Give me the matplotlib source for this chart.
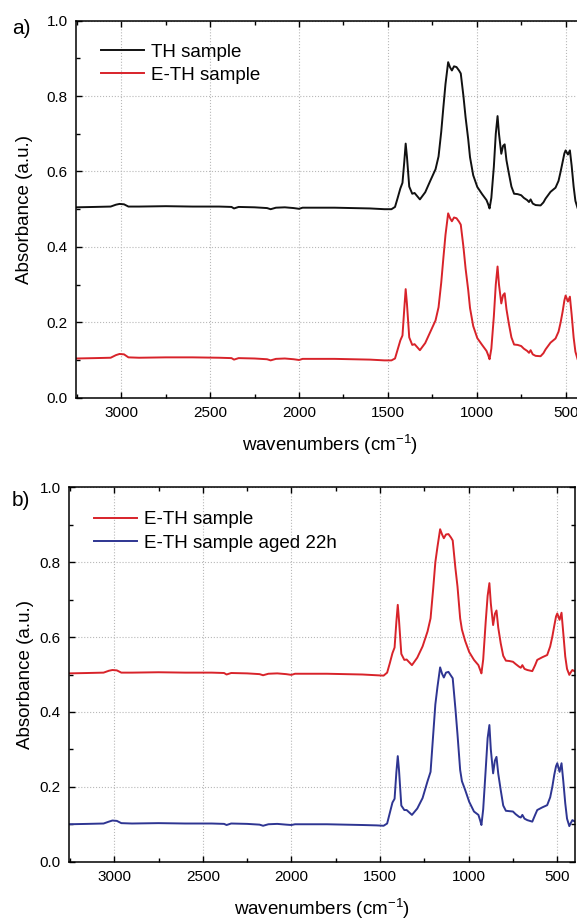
import matplotlib
matplotlib.use("Agg")
import matplotlib.pyplot as plt
from matplotlib.ticker import MultipleLocator

plt.rcParams['font.family'] = ['Liberation Sans', 'DejaVu Sans']

# Wavenumber grid (cm-1) shared by all spectra
wavenumbers = [3255, 3150, 3060, 3030, 3010, 2985, 2960, 2900, 2750, 2600,
               2450, 2380, 2366, 2340, 2250, 2180, 2160, 2130, 2080, 2030,
               2000, 1980, 1900, 1800, 1700, 1600, 1520, 1480, 1460, 1445,
               1430, 1418, 1408, 1400, 1393, 1380, 1363, 1350, 1320, 1290,
               1260, 1232, 1215, 1200, 1188, 1176, 1161, 1150, 1140, 1128,
               1114, 1100, 1090, 1075, 1063, 1048, 1038, 1020, 997, 970,
               945, 935, 928, 918, 904, 893, 883, 875, 862, 852,
               843, 833, 819, 805, 790, 770, 750, 735, 716, 706,
               697, 685, 669, 641, 625, 613, 585, 557, 540, 528,
               517, 507, 500, 487, 476, 466, 455, 445, 432, 425,
               415, 400]

# panel a) TH sample (black)
th_top = [0.505, 0.506, 0.507, 0.512, 0.514, 0.513, 0.507, 0.507, 0.508, 0.507,
          0.507, 0.506, 0.502, 0.506, 0.505, 0.503, 0.500, 0.504, 0.505, 0.503,
          0.501, 0.504, 0.504, 0.504, 0.503, 0.502, 0.500, 0.500, 0.506, 0.530,
          0.555, 0.570, 0.625, 0.674, 0.640, 0.560, 0.541, 0.543, 0.526, 0.545,
          0.577, 0.606, 0.640, 0.705, 0.770, 0.832, 0.890, 0.876, 0.868, 0.879,
          0.877, 0.868, 0.860, 0.800, 0.744, 0.685, 0.638, 0.590, 0.559, 0.540,
          0.524, 0.512, 0.502, 0.530, 0.612, 0.700, 0.747, 0.700, 0.647, 0.668,
          0.672, 0.630, 0.594, 0.560, 0.541, 0.540, 0.537, 0.530, 0.524, 0.519,
          0.526, 0.515, 0.511, 0.510, 0.518, 0.528, 0.546, 0.557, 0.575, 0.600,
          0.625, 0.648, 0.656, 0.645, 0.656, 0.615, 0.560, 0.522, 0.502, 0.506,
          0.515, 0.512]

# panel a) E-TH sample (red)
eth_top = [0.104, 0.105, 0.106, 0.113, 0.116, 0.115, 0.107, 0.106, 0.107, 0.107,
           0.106, 0.105, 0.101, 0.105, 0.104, 0.102, 0.099, 0.103, 0.104, 0.102,
           0.100, 0.103, 0.103, 0.103, 0.102, 0.101, 0.099, 0.099, 0.104, 0.128,
           0.152, 0.165, 0.235, 0.288, 0.250, 0.160, 0.140, 0.142, 0.126, 0.145,
           0.176, 0.205, 0.240, 0.305, 0.370, 0.432, 0.489, 0.476, 0.468, 0.478,
           0.476, 0.467, 0.459, 0.400, 0.343, 0.285, 0.238, 0.190, 0.158, 0.140,
           0.124, 0.112, 0.102, 0.130, 0.215, 0.300, 0.348, 0.300, 0.250, 0.272,
           0.277, 0.235, 0.195, 0.160, 0.141, 0.140, 0.137, 0.130, 0.124, 0.119,
           0.126, 0.115, 0.111, 0.110, 0.118, 0.128, 0.146, 0.157, 0.175, 0.200,
           0.228, 0.258, 0.271, 0.255, 0.268, 0.220, 0.160, 0.122, 0.101, 0.104,
           0.113, 0.110]

# panel b) E-TH sample (red)
eth_bottom = [0.503, 0.504, 0.505, 0.510, 0.512, 0.511, 0.505, 0.505, 0.506, 0.505,
              0.505, 0.504, 0.500, 0.504, 0.503, 0.501, 0.498, 0.502, 0.503, 0.501,
              0.499, 0.502, 0.502, 0.502, 0.501, 0.500, 0.498, 0.497, 0.505, 0.530,
              0.557, 0.572, 0.640, 0.686, 0.645, 0.555, 0.539, 0.540, 0.525, 0.545,
              0.575, 0.615, 0.650, 0.730, 0.800, 0.841, 0.888, 0.874, 0.864, 0.874,
              0.875, 0.866, 0.858, 0.785, 0.735, 0.650, 0.620, 0.590, 0.560, 0.539,
              0.525, 0.512, 0.503, 0.540, 0.640, 0.710, 0.744, 0.690, 0.632, 0.662,
              0.671, 0.625, 0.583, 0.550, 0.537, 0.536, 0.534, 0.528, 0.521, 0.518,
              0.525, 0.515, 0.512, 0.509, 0.525, 0.539, 0.546, 0.552, 0.575, 0.601,
              0.630, 0.655, 0.663, 0.646, 0.665, 0.610, 0.548, 0.515, 0.499, 0.505,
              0.512, 0.508]

# panel b) E-TH sample aged 22h (blue)
eth_aged = [0.100, 0.101, 0.102, 0.107, 0.110, 0.109, 0.103, 0.102, 0.103, 0.102,
            0.102, 0.101, 0.098, 0.102, 0.101, 0.099, 0.096, 0.100, 0.101, 0.099,
            0.098, 0.100, 0.100, 0.100, 0.099, 0.098, 0.097, 0.096, 0.102, 0.130,
            0.158, 0.168, 0.238, 0.282, 0.245, 0.150, 0.138, 0.138, 0.125, 0.142,
            0.170, 0.215, 0.240, 0.340, 0.420, 0.467, 0.519, 0.502, 0.492, 0.505,
            0.507, 0.497, 0.490, 0.410, 0.340, 0.245, 0.215, 0.192, 0.160, 0.134,
            0.125, 0.110, 0.098, 0.140, 0.245, 0.330, 0.365, 0.300, 0.236, 0.270,
            0.280, 0.235, 0.191, 0.150, 0.136, 0.135, 0.134, 0.127, 0.120, 0.118,
            0.125, 0.115, 0.111, 0.107, 0.125, 0.138, 0.145, 0.151, 0.172, 0.200,
            0.232, 0.255, 0.263, 0.240, 0.263, 0.215, 0.156, 0.115, 0.095, 0.102,
            0.111, 0.107]

BLACK = '#111111'
RED = '#d8232a'
BLUE = '#2e3592'

W, H = 577, 922


# Style one spectrum panel like the Origin export
def style_axes(ax):
    ax.set_xlim(3255, 400)
    ax.set_ylim(0, 1.0)
    ax.xaxis.set_major_locator(MultipleLocator(500))
    ax.xaxis.set_minor_locator(MultipleLocator(250))
    ax.yaxis.set_major_locator(MultipleLocator(0.2))
    ax.yaxis.set_minor_locator(MultipleLocator(0.1))
    ax.yaxis.set_major_formatter(lambda v, p: f"{v:.1f}")
    ax.tick_params(which='both', direction='in', top=True, right=True,
                   labelsize=11, width=1.0)
    ax.tick_params(which='major', length=4.5, pad=6)
    ax.tick_params(which='minor', length=3)
    ax.grid(True, which='major', linestyle=':', color='#b8b8b8', linewidth=0.8)
    for s in ax.spines.values():
        s.set_linewidth(1.1)
    ax.set_xlabel("wavenumbers (cm$^{\\mathregular{-1}}$)", fontsize=13.5, labelpad=9)
    ax.set_ylabel("Absorbance (a.u.)", fontsize=13.5)


def add_legend(ax, top):
    ax.legend(loc='upper left', bbox_to_anchor=(0.05, top), frameon=False,
              fontsize=13.5, handlelength=2.3, handletextpad=0.35,
              labelspacing=0.32, borderpad=0, borderaxespad=0)


fig = plt.figure(figsize=(W / 100, H / 100), dpi=100)

# panel a) - right side runs past the figure edge as in the source image
ax1 = fig.add_axes([76 / W, 1 - 397.7 / H, 507.4 / W, 377 / H])
ax1.plot(wavenumbers, th_top, color=BLACK, lw=1.4, label='TH sample')
ax1.plot(wavenumbers, eth_top, color=RED, lw=1.4, label='E-TH sample')
style_axes(ax1)
ax1.yaxis.set_label_coords(-0.084, 0.5)
add_legend(ax1, 0.939)

# panel b)
ax2 = fig.add_axes([69 / W, 1 - 861.7 / H, 506 / W, 374.4 / H])
ax2.plot(wavenumbers, eth_bottom, color=RED, lw=1.4, label='E-TH sample')
ax2.plot(wavenumbers, eth_aged, color=BLUE, lw=1.4, label='E-TH sample aged 22h')
style_axes(ax2)
ax2.yaxis.set_label_coords(-0.07, 0.5)
add_legend(ax2, 0.936)

fig.text(12 / W, 1 - 29 / H, "a)", fontsize=15, va='center', ha='left')
fig.text(12 / W, 1 - 500 / H, "b)", fontsize=15, va='center', ha='left')

fig.savefig("out.png", dpi=100)
